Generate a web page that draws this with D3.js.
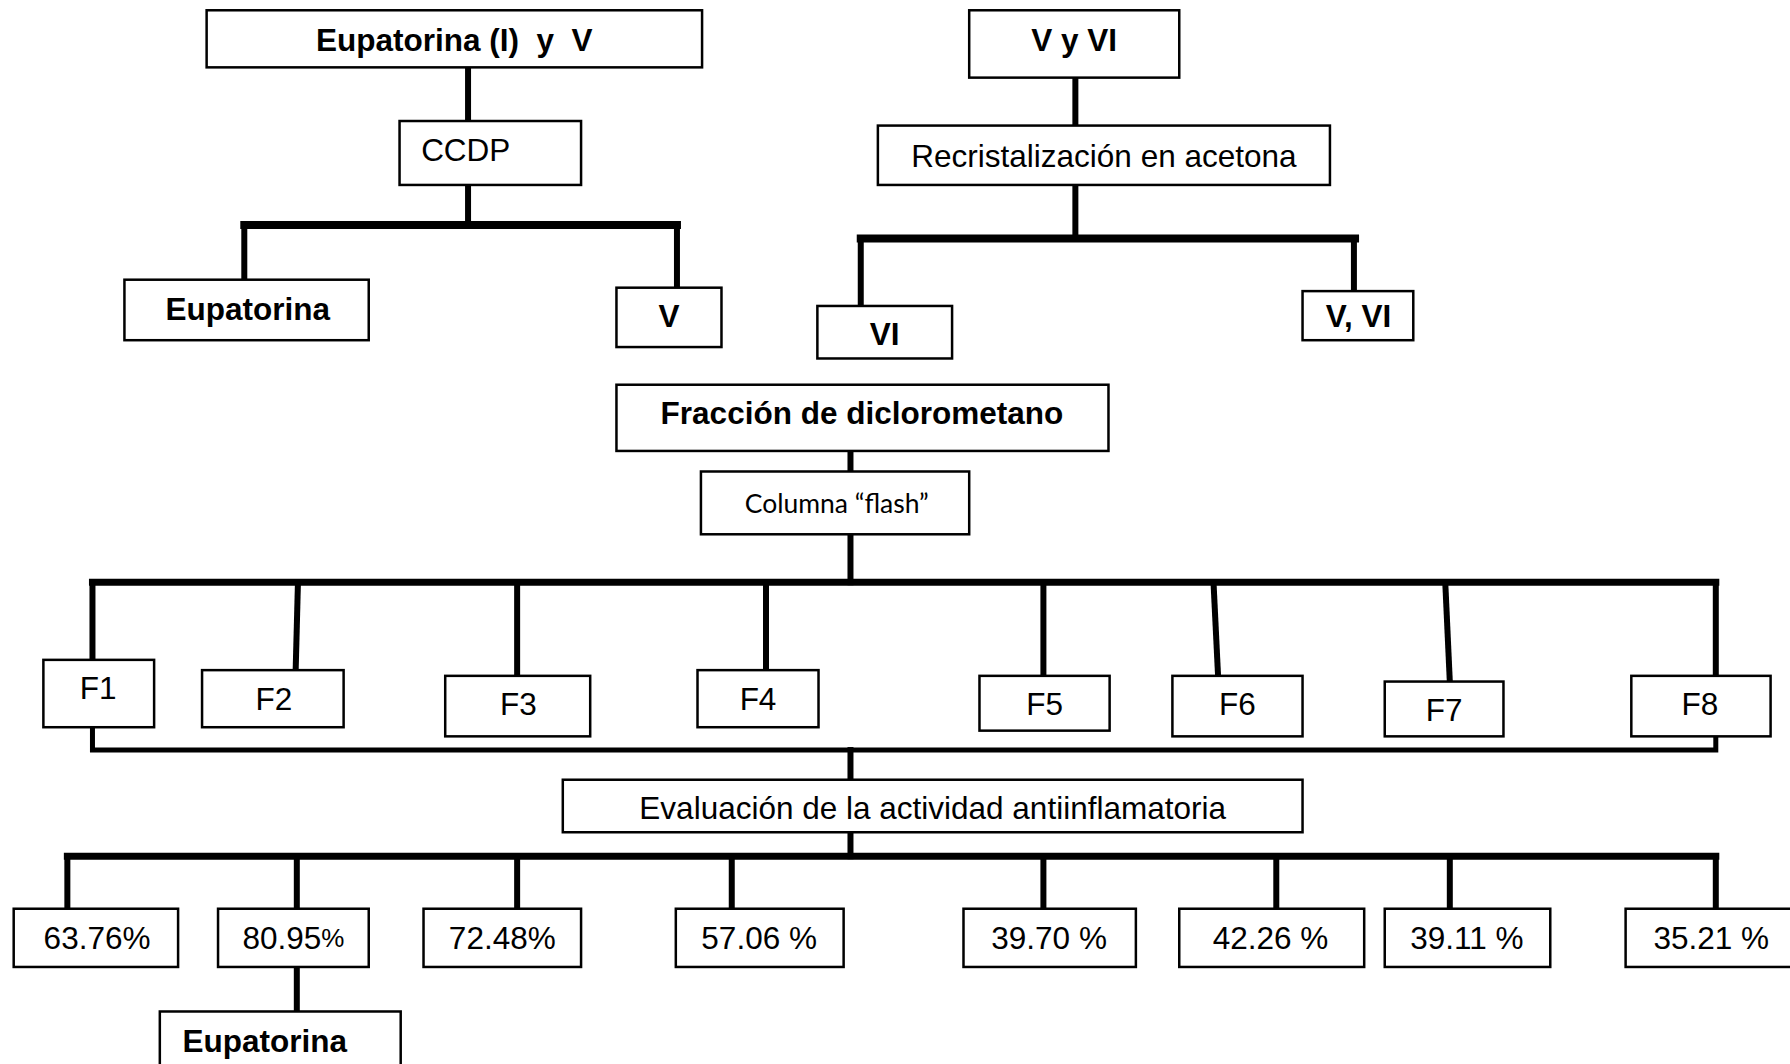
<!DOCTYPE html>
<html>
<head>
<meta charset="utf-8">
<script src="https://cdn.jsdelivr.net/npm/d3@7"></script>
<style>
  body { margin: 0; background: #fff; }
  text { white-space: pre; }
</style>
</head>
<body>
<svg id="chart" width="1790" height="1064"></svg>
<script>
// Labels of the scheme
const topLeft = ["Eupatorina (I)  y  V", "CCDP", "Eupatorina", "V"];
const topRight = ["V y VI", "Recristalización en acetona", "VI", "V, VI"];
const middle = ["Fracción de diclorometano", "Columna \u201cflash\u201d"];
const fractions = ["F1", "F2", "F3", "F4", "F5", "F6", "F7", "F8"];
const evaluation = "Evaluación de la actividad antiinflamatoria";
const activity = ["63.76%", "80.95%", "72.48%", "57.06 %", "39.70 %", "42.26 %", "39.11 %", "35.21 %"];
const bestResult = "Eupatorina";

const svg = d3.select("#chart"),
  width = +svg.attr("width"),
  height = +svg.attr("height");

// layout is drawn on a 1568 x 932 grid and scaled to the page
const sx = d3.scaleLinear().domain([0, 1568]).range([0, width]);
const sy = d3.scaleLinear().domain([0, 932]).range([0, height]);

const ARIAL = "'Liberation Sans', Arial, sans-serif";
const CALIBRI = "Lato, 'Open Sans', sans-serif";

// box layout: [x0, y0, x1, y1, textX, textY]
const topLeftBoxes = [
  [181, 9, 615, 59, 398, 35],
  [350, 106, 509, 162, 408, 131],
  [109, 245, 323, 298, 217, 271],
  [540, 252, 632, 304, 586, 277]
];
const topRightBoxes = [
  [849, 9, 1033, 68, 941, 35],
  [769, 110, 1165, 162, 967, 137],
  [716, 268, 834, 314, 775, 293],
  [1141, 255, 1238, 298, 1190, 277]
];
const middleBoxes = [
  [540, 337, 971, 395, 755, 362],
  [614, 413, 849, 468, 733, 441]
];
const fractionBoxes = [
  [38, 578, 135, 637, 86, 603],
  [177, 587, 301, 637, 240, 612],
  [390, 592, 517, 645, 454, 617],
  [611, 587, 717, 637, 664, 612],
  [858, 592, 972, 640, 915, 617],
  [1027, 592, 1141, 645, 1084, 617],
  [1213, 597, 1317, 645, 1265, 622],
  [1429, 592, 1551, 645, 1489, 617]
];
const fractionLegs = [[81, 81, 578], [261, 259, 587], [453, 453, 592], [671, 671, 587],
  [914, 914, 592], [1063, 1067, 592], [1266, 1270, 597], [1503, 1503, 592]];
const evalBox = [493, 683, 1141, 729, 817, 708];
const activityBoxes = [
  [12, 796, 156, 847, 85],
  [191, 796, 323, 847, 257],
  [371, 796, 509, 847, 440],
  [592, 796, 739, 847, 665],
  [844, 796, 995, 847, 919],
  [1033, 796, 1195, 847, 1113],
  [1213, 796, 1358, 847, 1285],
  [1424, 796, 1575, 847, 1499]
];
const activityLegX = [59, 260, 453, 641, 914, 1118, 1270, 1503];
const bestBox = [140, 886, 351, 940, 232, 912];

// nodes
const nodes = [];
topLeft.forEach((t, i) => nodes.push({ label: t, b: topLeftBoxes[i], bold: i !== 1 }));
topRight.forEach((t, i) => nodes.push({ label: t, b: topRightBoxes[i], bold: i !== 1 }));
nodes.push({ label: middle[0], b: middleBoxes[0], bold: true });
nodes.push({ label: middle[1], b: middleBoxes[1], bold: false, font: CALIBRI, size: 26.5 });
fractions.forEach((t, i) => nodes.push({ label: t, b: fractionBoxes[i], bold: false }));
nodes.push({ label: evaluation, b: evalBox, bold: false });
activity.forEach((t, i) => {
  const b = activityBoxes[i];
  nodes.push({ label: t, b: [b[0], b[1], b[2], b[3], b[4], 822], bold: false, smallPct: i === 1 });
});
nodes.push({ label: bestResult, b: bestBox, bold: true });

// connectors: [points, stroke width]
const links = [
  [[[410, 59], [410, 106]], 6],
  [[[410, 162], [410, 197]], 6],
  [[[214, 197], [593, 197]], 8],
  [[[214, 197], [214, 245]], 6],
  [[[593, 197], [593, 252]], 6],
  [[[942, 68], [942, 110]], 6],
  [[[942, 162], [942, 209]], 6],
  [[[754, 209], [1187, 209]], 8],
  [[[754, 209], [754, 268]], 6],
  [[[1186, 209], [1186, 255]], 6],
  [[[745, 395], [745, 413]], 6],
  [[[745, 460], [745, 510]], 6],
  [[[81, 510], [1503, 510]], 7],
  [[[81, 637], [81, 657], [1503, 657], [1503, 645]], 5],
  [[[745, 657], [745, 683]], 6],
  [[[745, 729], [745, 750]], 6],
  [[[59, 750], [1503, 750]], 7],
  [[[260, 847], [260, 886]], 6]
];
fractionLegs.forEach(d => links.push([[[d[0], 510], [d[1], d[2]]], 6]));
activityLegX.forEach(x => links.push([[[x, 750], [x, 796]], 6]));

const line = d3.line().x(d => sx(d[0])).y(d => sy(d[1]));

svg.append("g")
  .selectAll("path")
  .data(links)
  .enter()
  .append("path")
  .attr("d", d => line(d[0]))
  .attr("fill", "none")
  .attr("stroke", "#000")
  .attr("stroke-width", d => d[1])
  .attr("stroke-linecap", "square")
  .attr("stroke-linejoin", "miter");

const node = svg.append("g")
  .selectAll("g")
  .data(nodes)
  .enter()
  .append("g");

node.append("rect")
  .attr("x", d => sx(d.b[0]))
  .attr("y", d => sy(d.b[1]))
  .attr("width", d => sx(d.b[2]) - sx(d.b[0]))
  .attr("height", d => sy(d.b[3]) - sy(d.b[1]))
  .attr("fill", "#fff")
  .attr("stroke", "#000")
  .attr("stroke-width", 2.5);

node.append("text")
  .attr("x", d => sx(d.b[4]))
  .attr("y", d => sy(d.b[5]))
  .attr("text-anchor", "middle")
  .attr("dominant-baseline", "central")
  .attr("font-family", d => d.font || ARIAL)
  .attr("font-size", d => d.size || 31.5)
  .attr("font-weight", d => d.bold ? "bold" : "normal")
  .attr("fill", "#000")
  .each(function (d) {
    const t = d3.select(this);
    if (d.smallPct) {
      t.append("tspan").text(d.label.slice(0, -1));
      t.append("tspan").attr("font-size", 26).text("%");
    } else {
      t.text(d.label);
    }
  });
</script>
</body>
</html>
